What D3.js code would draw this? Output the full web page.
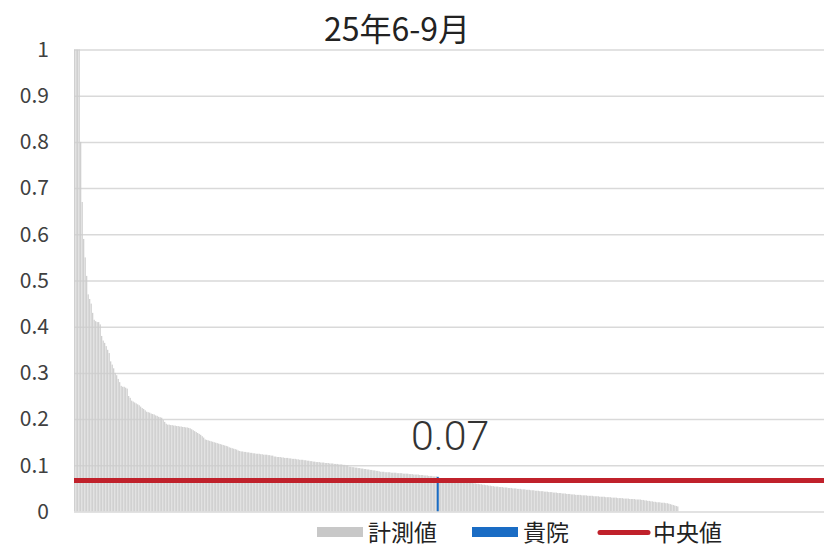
<!DOCTYPE html>
<html>
<head>
<meta charset="utf-8">
<script src="https://cdn.jsdelivr.net/npm/d3@7"></script>
<style>
  body { margin: 0; background: #fff; }
  svg { display: block; }
</style>
</head>
<body>
<div id="chart"></div>
<script>
const titleText = "25年6-9月";
const slotCount = 500; // category slots on the x axis (the last ones are empty)
const measuredValues = [
  2.8, 1.9, 1.4, 1.15,
  0.80, 0.67, 0.59, 0.55, 0.51, 0.47, 0.46, 0.45, 0.43,
  0.415, 0.412, 0.41, 0.41, 0.405,
  0.38, 0.37, 0.365, 0.358, 0.35, 0.343,
  0.325, 0.318, 0.31, 0.30, 0.295, 0.287, 0.28, 0.272,
  0.27, 0.27, 0.268, 0.266, 0.25, 0.246,
  0.24, 0.238, 0.236, 0.234, 0.232, 0.23,
  0.227, 0.224, 0.222, 0.219, 0.216,
  0.215, 0.214, 0.212, 0.211, 0.21, 0.208, 0.207, 0.205, 0.204, 0.203,
  0.198, 0.194, 0.19,
  0.188, 0.188, 0.187, 0.187, 0.186, 0.186, 0.185, 0.185, 0.184, 0.184, 0.183, 0.183, 0.182, 0.182, 0.181, 0.180,
  0.178, 0.176, 0.174, 0.172, 0.17, 0.168, 0.166, 0.163, 0.16,
  0.156, 0.155, 0.154, 0.153, 0.152, 0.151, 0.150, 0.149, 0.148, 0.147, 0.146, 0.145, 0.144, 0.143, 0.142, 0.141,
  0.139, 0.138, 0.137, 0.136, 0.135, 0.134, 0.132, 0.131,
  0.130, 0.130, 0.129, 0.129, 0.128, 0.128, 0.127, 0.127, 0.126, 0.126, 0.125, 0.125, 0.125, 0.124, 0.124, 0.123,
  0.123, 0.123, 0.122, 0.122, 0.121, 0.121,
  0.119, 0.119, 0.118, 0.118, 0.118, 0.117, 0.117, 0.116, 0.116, 0.116, 0.115, 0.115, 0.114, 0.114, 0.114, 0.113,
  0.113, 0.112, 0.112, 0.112, 0.111, 0.111, 0.110, 0.110, 0.109, 0.109, 0.108,
  0.108, 0.107, 0.107, 0.107, 0.106, 0.106, 0.106, 0.105, 0.105, 0.105, 0.104, 0.104, 0.104, 0.103, 0.103, 0.103,
  0.102, 0.102, 0.102, 0.101, 0.101, 0.100, 0.100,
  0.097, 0.097, 0.096, 0.096, 0.095, 0.095, 0.094, 0.094, 0.093, 0.093, 0.092, 0.092, 0.091, 0.091, 0.090, 0.090,
  0.089, 0.089, 0.088, 0.088, 0.087, 0.086,
  0.086, 0.086, 0.085, 0.085, 0.085, 0.085, 0.084, 0.084, 0.084, 0.084, 0.083, 0.083, 0.083, 0.083, 0.082, 0.082,
  0.082, 0.082, 0.081, 0.081, 0.081, 0.080, 0.080, 0.080, 0.080, 0.079, 0.079, 0.079, 0.078, 0.078, 0.078, 0.077,
  0.077, 0.077, 0.076, 0.076, 0.076,
  0.075,
  0.073, 0.072, 0.072, 0.071, 0.071, 0.070, 0.070, 0.069, 0.069, 0.068, 0.068, 0.067, 0.067, 0.066, 0.066, 0.065,
  0.065, 0.064, 0.064, 0.063, 0.063, 0.062, 0.062, 0.061, 0.061, 0.060, 0.060, 0.059, 0.059, 0.058, 0.058, 0.057,
  0.057, 0.056, 0.056, 0.055, 0.055, 0.054, 0.054, 0.054, 0.053, 0.053, 0.053, 0.052, 0.052, 0.052,
  0.051, 0.051, 0.051, 0.050, 0.050, 0.050, 0.049, 0.049, 0.049, 0.048, 0.048, 0.048, 0.047, 0.047, 0.047, 0.046,
  0.046, 0.046, 0.045, 0.045, 0.045, 0.044, 0.044, 0.044, 0.043, 0.043, 0.043, 0.042, 0.042, 0.042, 0.041, 0.041,
  0.041, 0.040, 0.040, 0.040, 0.039, 0.039, 0.039, 0.038, 0.038, 0.038, 0.037, 0.037,
  0.037, 0.036, 0.036, 0.036, 0.036, 0.035, 0.035, 0.035, 0.035, 0.034, 0.034, 0.034, 0.034, 0.033, 0.033, 0.033,
  0.033, 0.032, 0.032, 0.032, 0.032, 0.031, 0.031, 0.031, 0.031, 0.030, 0.030, 0.030, 0.030, 0.029, 0.029, 0.029,
  0.029, 0.028, 0.028, 0.028, 0.028, 0.027, 0.027, 0.027, 0.027, 0.026, 0.026, 0.026, 0.026,
  0.025, 0.025, 0.024, 0.024, 0.023, 0.023, 0.022, 0.022, 0.021, 0.021, 0.020, 0.020, 0.020, 0.019, 0.019, 0.019,
  0.018, 0.018, 0.017, 0.016, 0.015, 0.014, 0.013, 0.012, 0.011
];
const hospitalIndex = 242;      // position of 貴院 in the sorted list
const medianValue = 0.067;
const medianLabel = "0.07";
const yTickValues = [0, 0.1, 0.2, 0.3, 0.4, 0.5, 0.6, 0.7, 0.8, 0.9, 1];
const yTickLabels = ["0", "0.1", "0.2", "0.3", "0.4", "0.5", "0.6", "0.7", "0.8", "0.9", "1"];
const legendNames = ["計測値", "貴院", "中央値"];

const colors = { measured: "#cdcdcd", hospital: "#1a6cc4", median: "#c0212b", grid: "#d9d9d9", text: "#404040" };

const W = 824, H = 547;
const plot = { left: 74, right: 824, top: 49.5, bottom: 511.5 };

const svg = d3.select("#chart").append("svg")
  .attr("width", W)
  .attr("height", H)
  .style("font-family", "'Noto Sans CJK JP', 'Noto Sans', sans-serif");

const xScale = d3.scaleBand()
  .domain(d3.range(slotCount))
  .range([plot.left, plot.right])
  .paddingInner(0.2)
  .paddingOuter(0.05);

const yScale = d3.scaleLinear()
  .domain([0, 1])
  .range([plot.bottom, plot.top]);

// Gridlines
svg.append("g")
  .attr("transform", "translate(" + plot.left + ",0)")
  .call(d3.axisRight(yScale).tickValues(yTickValues).tickSize(plot.right - plot.left).tickFormat(""))
  .call(g => g.select(".domain").remove())
  .call(g => g.selectAll("line").attr("stroke", colors.grid).attr("stroke-width", 1.5));

// Y axis labels
svg.append("g")
  .attr("transform", "translate(49,0)")
  .call(d3.axisLeft(yScale).tickValues(yTickValues).tickSize(0).tickPadding(0)
    .tickFormat((d, i) => yTickLabels[i]))
  .call(g => g.select(".domain").remove())
  .call(g => g.selectAll("text")
    .attr("fill", colors.text)
    .style("font-size", "21px")
    .style("font-family", "'Noto Sans CJK JP', sans-serif"));

// Bars, clipped at the top of the plot
svg.append("clipPath").attr("id", "plotclip")
  .append("rect")
  .attr("x", plot.left).attr("y", plot.top)
  .attr("width", plot.right - plot.left).attr("height", plot.bottom - plot.top);

const bars = svg.append("g").attr("clip-path", "url(#plotclip)");

bars.selectAll(".bar")
  .data(measuredValues)
  .enter()
  .append("rect")
  .attr("class", "bar")
  .attr("x", (d, i) => xScale(i))
  .attr("y", d => yScale(d))
  .attr("width", xScale.bandwidth())
  .attr("height", d => plot.bottom - yScale(d))
  .attr("fill", colors.measured);

// 貴院 bar drawn on top, a little wider so it stays visible
bars.append("rect")
  .datum(measuredValues[hospitalIndex])
  .attr("x", xScale(hospitalIndex) - 0.4)
  .attr("y", d => yScale(d))
  .attr("width", 2)
  .attr("height", d => plot.bottom - yScale(d))
  .attr("fill", colors.hospital);

// Median line
svg.append("line")
  .attr("x1", plot.left)
  .attr("x2", plot.right)
  .attr("y1", yScale(medianValue))
  .attr("y2", yScale(medianValue))
  .attr("stroke", colors.median)
  .attr("stroke-width", 5);

// Value label
svg.append("text")
  .attr("x", xScale(hospitalIndex) + 13)
  .attr("y", yScale(medianValue) - 31)
  .attr("text-anchor", "middle")
  .attr("fill", "#333")
  .style("font-family", "Roboto, sans-serif")
  .style("font-weight", 300)
  .style("font-size", "41px")
  .text(medianLabel);

// Title
svg.append("text")
  .attr("x", 397)
  .attr("y", 41)
  .attr("text-anchor", "middle")
  .attr("fill", "#222")
  .style("font-size", "32px")
  .text(titleText);

// Legend
const legend = svg.append("g");
legend.append("rect").attr("x", 317).attr("y", 527).attr("width", 46).attr("height", 10).attr("fill", "#c8c8c8");
legend.append("rect").attr("x", 472).attr("y", 527).attr("width", 46).attr("height", 10).attr("fill", colors.hospital);
legend.append("line").attr("x1", 600).attr("x2", 648).attr("y1", 532.5).attr("y2", 532.5)
  .attr("stroke", colors.median).attr("stroke-width", 5).attr("stroke-linecap", "round");
[368, 523, 653].forEach((x, i) => {
  legend.append("text")
    .attr("x", x)
    .attr("y", 541)
    .attr("fill", "#222")
    .style("font-size", "23px")
    .text(legendNames[i]);
});
</script>
</body>
</html>
